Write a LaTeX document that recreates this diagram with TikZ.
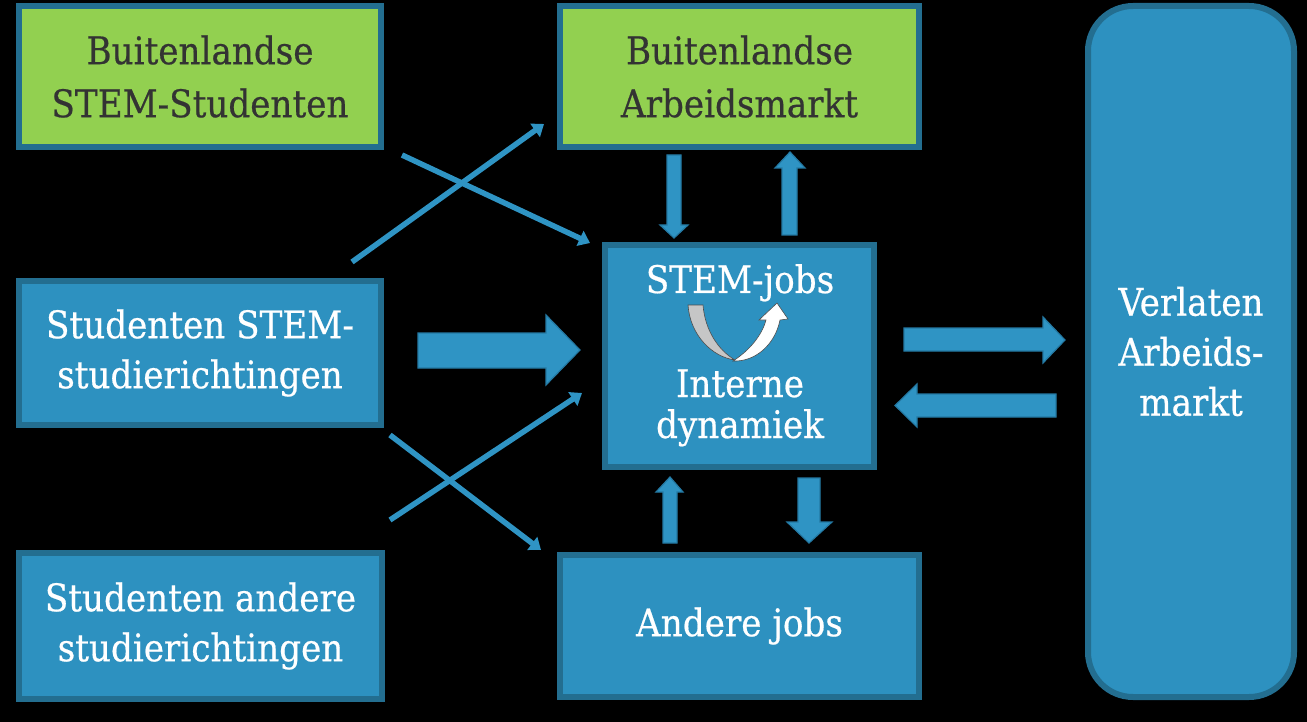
\documentclass[tikz,border=0pt]{standalone}
\usepackage{fontspec}
\setmainfont{DejaVu Serif Condensed}[FakeBold=0.5]
\usetikzlibrary{arrows.meta}
\definecolor{bg}{HTML}{000000}
\definecolor{boxgreen}{HTML}{92D050}
\definecolor{boxblue}{HTML}{2D91C0}
\definecolor{edge}{HTML}{236E90}
\definecolor{arrblue}{HTML}{2F94C4}
\definecolor{arredge}{HTML}{2479A3}
\definecolor{darktext}{HTML}{333333}
\tikzset{
  greenbox/.style={draw=edge, line width=6pt, fill=boxgreen, text=darktext, align=center, inner sep=0pt,
    font=\fontsize{38}{53}\selectfont},
  bluebox/.style={draw=edge, line width=6pt, fill=boxblue, text=white, align=center, inner sep=0pt,
    font=\fontsize{38}{50}\selectfont},
  lbl/.style={text=white, font=\fontsize{38}{50}\selectfont, anchor=base, inner sep=0pt},
  blockarrow/.style={fill=arrblue, draw=arredge, line width=1.2pt, line join=miter},
  thinarrow/.style={draw=arrblue, line width=5.5pt, -{Triangle[length=11pt,width=16pt]}},
}
\begin{document}
\begin{tikzpicture}[x=1pt,y=-1pt]
\fill[bg] (0,0) rectangle (1307,722);
\useasboundingbox (0,0) rectangle (1307,722);

\node[greenbox, minimum width=362pt, minimum height=141pt] (bstud) at (200,76.5) {Buitenlandse\\STEM-Studenten};
\node[greenbox, minimum width=359pt, minimum height=141pt] (barb) at (739.5,76.5) {Buitenlandse\\Arbeidsmarkt};
\node[bluebox, minimum width=362pt, minimum height=144pt] (sstem) at (200,353) {Studenten STEM-\\studierichtingen};
\node[bluebox, minimum width=363pt, minimum height=146pt] (sand) at (200.5,626) {Studenten andere\\studierichtingen};
\node[bluebox, minimum width=269pt, minimum height=222pt] (stem) at (739.5,356) {};
\node[bluebox, minimum width=359pt, minimum height=142pt] (ajobs) at (739.5,626) {Andere jobs};
\node[bluebox, rounded corners=45pt, minimum width=206pt, minimum height=691pt] (verl) at (1191,351.5) {Verlaten\\Arbeids-\\markt};

\node[lbl] (stemlbl) at (740,293) {STEM-jobs};
\node[lbl] (intlbl) at (740,397) {Interne};
\node[lbl] (dynlbl) at (740,438) {dynamiek};

% U-turn arrow
\fill[gray!45, draw=gray!60!black, line width=0.6pt] (688,305) -- (703,305) .. controls (705,330) and (718,350) .. (735,360) .. controls (712,357) and (690,335) .. (688,305) -- cycle;
\fill[white, draw=gray!60!black, line width=0.6pt] (733,361) .. controls (750,350) and (762,335) .. (766,320) -- (759,320) -- (777,303) -- (788,319) -- (780,320) .. controls (775,345) and (755,362) .. (733,361) -- cycle;

% thin crossing arrows
\coordinate (c1s) at (352,262); \coordinate (c1e) at (544,124);
\coordinate (c2s) at (402,155); \coordinate (c2e) at (590,243);
\coordinate (c3s) at (390,435); \coordinate (c3e) at (541,550);
\coordinate (c4s) at (390,520); \coordinate (c4e) at (582,393);
\draw[thinarrow] (c1s) -- (c1e);
\draw[thinarrow] (c2s) -- (c2e);
\draw[thinarrow] (c3s) -- (c3e);
\draw[thinarrow] (c4s) -- (c4e);

% block arrows
\draw[blockarrow] (418,333) -- (546,333) -- (546,315) -- (580,350) -- (546,385) -- (546,368) -- (418,368) -- cycle;
\draw[blockarrow] (904,328) -- (1043,328) -- (1043,317) -- (1065,340) -- (1043,363) -- (1043,351) -- (904,351) -- cycle;
\draw[blockarrow] (1056,394) -- (917,394) -- (917,384) -- (895,405.5) -- (917,427) -- (917,417) -- (1056,417) -- cycle;
\draw[blockarrow] (667,155) -- (681,155) -- (681,225) -- (688,225) -- (674,238) -- (660,225) -- (667,225) -- cycle;
\draw[blockarrow] (782,235) -- (797,235) -- (797,168) -- (805,168) -- (790,152) -- (775,168) -- (782,168) -- cycle;
\draw[blockarrow] (663,543) -- (677,543) -- (677,492) -- (683,492) -- (670,477) -- (656,492) -- (663,492) -- cycle;
\draw[blockarrow] (798,478) -- (820,478) -- (820,522) -- (832,522) -- (809,543) -- (787,522) -- (798,522) -- cycle;
\end{tikzpicture}
\end{document}
